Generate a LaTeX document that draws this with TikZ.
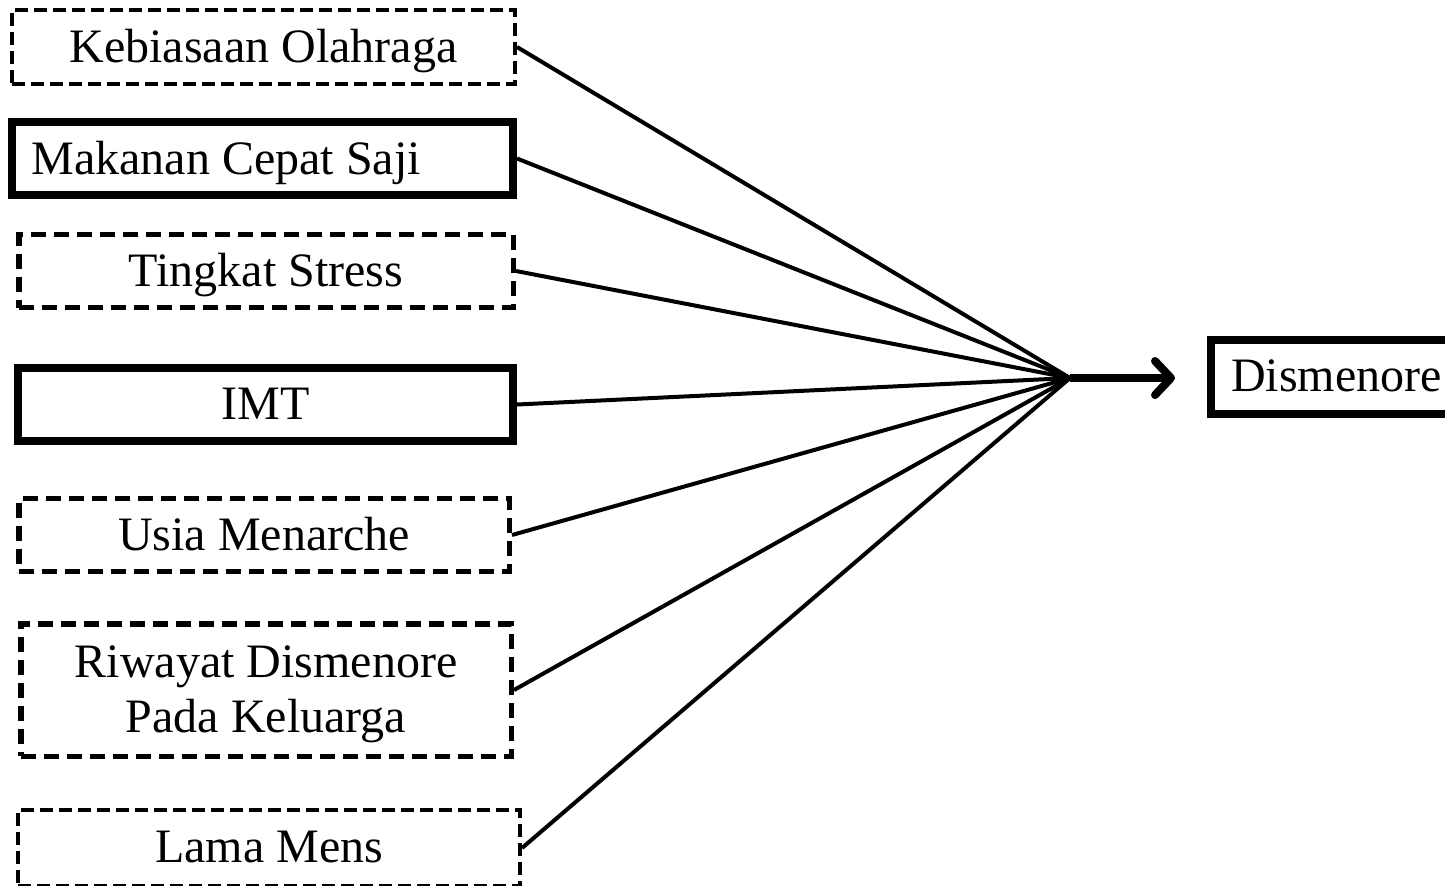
\documentclass[tikz,border=0pt]{standalone}
\usepackage{fontspec}
\setmainfont{Liberation Serif}
\usetikzlibrary{arrows.meta}

\begin{document}
\begin{tikzpicture}[x=0.5pt,y=-0.5pt,
                    font=\fontsize{24}{27.6}\selectfont]

  \tikzstyle{factor}=[rectangle,draw,inner sep=0pt,align=center,minimum height=36.5pt,text depth=1pt]
  \tikzstyle{thin dash}=[factor,line width=2pt,dash pattern=on 6.5pt off 3pt]
  \tikzstyle{thick dash}=[factor,line width=2.75pt,dash pattern=on 7.5pt off 4pt]
  \tikzstyle{thick box}=[factor,line width=4pt]
  \tikzstyle{link}=[line width=2pt]

  \useasboundingbox (0,0) rectangle (1445,885);

  \node[thin dash,minimum width=251.5pt,minimum height=37pt]
                                          (olahraga) at (263.5,47)  {Kebiasaan Olahraga};
  \node[thick box,text width=231pt,align=flush left,inner xsep=9.75pt]
                                          (makanan)  at (262.5,158.5) {Makanan Cepat Saji};
  \node[thick dash,minimum width=247.25pt] (stress)   at (266,271)   {Tingkat Stress};
  \node[thick box,minimum width=247.5pt]  (imt)      at (265.5,404.5) {IMT};
  \node[thick dash,minimum width=245.25pt] (menarche) at (264,535)   {Usia Menarche};
  \node[thick dash,minimum width=245.25pt,minimum height=66.25pt]
                                          (riwayat)  at (266,690)   {Riwayat Dismenore\\Pada Keluarga};
  \node[thin dash,minimum width=251pt,minimum height=38pt]
                                          (lama)     at (269,848)   {Lama Mens};

  \node[thick box,anchor=west,minimum height=37pt,inner xsep=10pt]
                                          (dismenore) at (1207,377) {Dismenore};

  \coordinate (hub) at (1070,378);

  \foreach \src in {olahraga,makanan,stress,imt,menarche,riwayat,lama}
    \draw[link] (\src.east) -- (hub);

  \draw[line width=4pt,-{Straight Barb[length=8pt,width=17pt,line cap=round,line join=round]},
        shorten >=16pt] (hub) -- (dismenore.west |- hub);
\end{tikzpicture}
\end{document}
